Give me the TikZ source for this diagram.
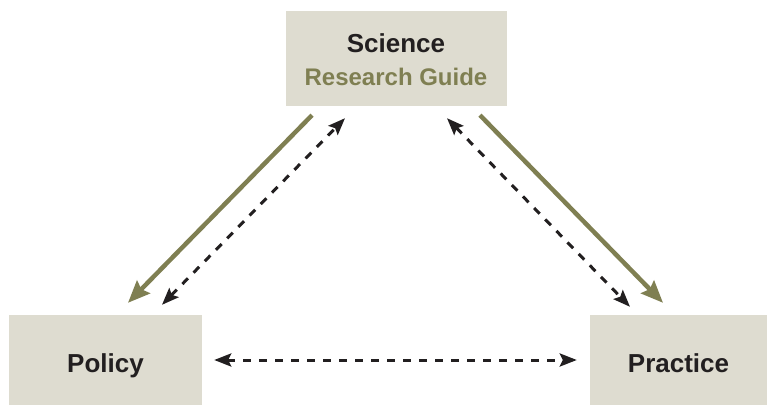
\documentclass[tikz,border=0pt]{standalone}
\usepackage{fontspec}
\setmainfont{Liberation Sans}
\usetikzlibrary{arrows.meta}
\definecolor{boxgray}{RGB}{222,220,208}
\definecolor{guideolive}{RGB}{127,127,82}
\definecolor{inkblack}{RGB}{34,31,32}

\begin{document}
\begin{tikzpicture}[x=1pt, y=-1pt,
      every node/.style = {fill=boxgray, align=center, inner sep=0pt,
        text=inkblack, font=\bfseries\fontsize{26}{33}\selectfont},
      side/.style = {minimum height=90pt, text height=24pt, text depth=0pt},
      flow/.style = {draw=guideolive, line width=4.5pt,
        -{Stealth[length=22pt, width=18pt, inset=3pt]}},
      link/.style = {draw=inkblack, line width=3pt, dash pattern=on 8pt off 8pt,
        {Stealth[length=17pt, width=13pt, inset=3pt]}-{Stealth[length=17pt, width=13pt, inset=3pt]}}]
  \useasboundingbox (0,0) rectangle (769,406);
  \node[minimum width=221pt, minimum height=95pt] (science) at (396,58.5)
    {\rule{0pt}{22pt}Science\\\textcolor{guideolive}{\fontsize{24}{33}\selectfont Research Guide}};
  \node[side, minimum width=193pt] (policy) at (105.5,360) {Policy};
  \node[side, minimum width=177pt] (practice) at (678.5,360) {Practice};
  \draw[flow] ([shift={(-84,9)}]science.south) -- ([shift={(22.5,-12)}]policy.north);
  \draw[link] ([shift={(56.5,-10)}]policy.north) -- ([shift={(-51,12)}]science.south);
  \draw[link] ([shift={(51,12)}]science.south) -- ([shift={(-48.5,-8)}]practice.north);
  \draw[flow] ([shift={(84,9)}]science.south) -- ([shift={(-15.5,-12)}]practice.north);
  \draw[link] ([xshift=12pt]policy.east) -- ([xshift=-13pt]practice.west);
\end{tikzpicture}
\end{document}
